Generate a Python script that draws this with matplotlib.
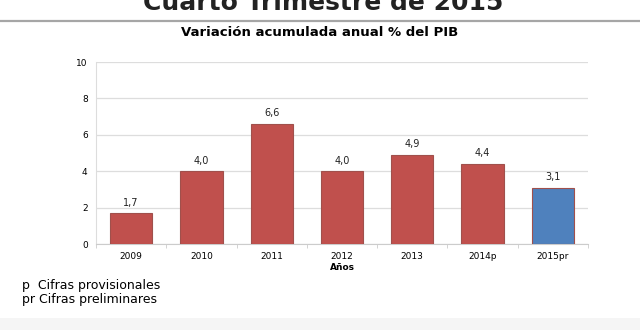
import numpy as np
import matplotlib.pyplot as plt
from matplotlib.patches import Rectangle

# data
years = ['2009', '2010', '2011', '2012', '2013', '2014p', '2015pr']
pib = [1.7, 4.0, 6.6, 4.0, 4.9, 4.4, 3.1]
labels = ['1,7', '4,0', '6,6', '4,0', '4,9', '4,4', '3,1']
colors = ['#C0504D'] * 6 + ['#4F81BD']

fig = plt.figure(figsize=(6.4, 3.3), dpi=100)

# page heading, cut off at the top
fig.text(0.505, 1 - 10/330, 'Cuarto Trimestre de 2015', ha='center', va='baseline',
         fontsize=18, fontweight='bold', color='#222222')
fig.add_artist(plt.Line2D([0, 1], [1 - 21/330, 1 - 21/330], color='#a6a6a6', lw=1.6))
fig.add_artist(Rectangle((0, 0), 1, 12/330, color='#f5f5f5', lw=0))

ax = fig.add_axes([96/640, 1 - 244/330, 492/640, 182/330])
x = np.arange(len(years))
bars = ax.bar(x, pib, width=0.6, color=colors, edgecolor='#a0504c', linewidth=0.8, zorder=3)
for xi, v, lab in zip(x, pib, labels):
    ax.text(xi, v + 0.3, lab, ha='center', va='bottom', fontsize=7, color='#222222')

ax.set_xlim(-0.5, len(years) - 0.5)
ax.set_ylim(0, 10)
ax.set_yticks(range(0, 11, 2))
ax.set_xticks(x)
ax.set_xticklabels(years, fontsize=6.5)
ax.tick_params(axis='y', labelsize=6.5, length=0, pad=6)
ax.tick_params(axis='x', length=0, pad=6)
ax.set_xticks(np.arange(-0.5, len(years)), minor=True)
ax.tick_params(axis='x', which='minor', length=3, color='#cccccc')
ax.grid(axis='y', color='#dddddd', lw=0.9, zorder=0)
for s in ['top', 'right']:
    ax.spines[s].set_visible(False)
ax.spines['left'].set_color('#dddddd')
ax.spines['bottom'].set_color('#cccccc')
ax.set_xlabel('Años', fontsize=6.5, fontweight='bold', labelpad=1)

fig.text(0.5, 1 - 33/330, 'Variación acumulada anual % del PIB', ha='center', va='center',
         fontsize=9.5, fontweight='bold')

fig.text(22/640, 1 - 285/330, 'p  Cifras provisionales', fontsize=9, va='center')
fig.text(22/640, 1 - 300/330, 'pr Cifras preliminares', fontsize=9, va='center')

fig.savefig('out.png', dpi=100)
